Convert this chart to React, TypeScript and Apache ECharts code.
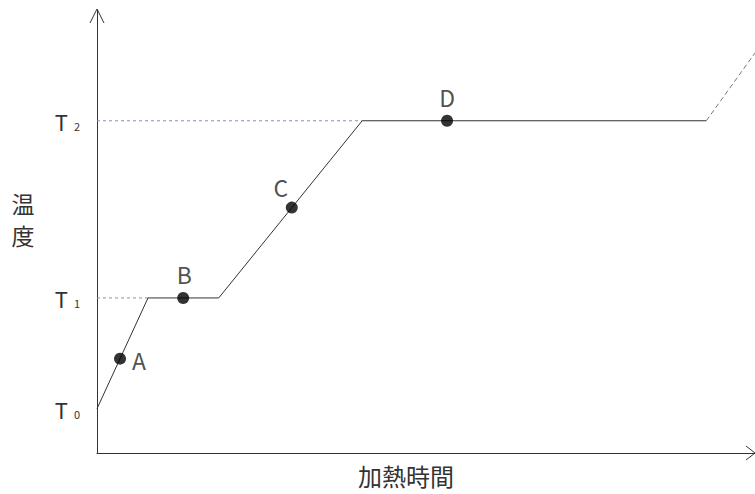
import React, { useEffect, useRef } from "react";
import * as echarts from "echarts";

// Heating curve (x: heating time, y: temperature), values in chart units
const pathX = [0, 7.75, 18.5, 40.3, 92.6];
const pathY = [10, 35, 35, 75, 75];
const dashX = [92.6, 100];
const dashY = [75, 90.3];
const refT1 = [[0, 35], [7.75, 35]];
const refT2 = [[0, 75], [40.3, 75]];
const pointNames = ["A", "B", "C", "D"];
const pointX = [3.5, 13.1, 29.6, 53.2];
const pointY = [21.3, 35, 55.4, 75];
const tickValues = [10, 35, 75];
const tickSubs = ["0", "1", "2"];
const xName = "加熱時間";
const yName = "温\n度";

const FONT = "'Noto Sans CJK JP', 'Noto Sans', sans-serif";
const INK = "#333";

export default function App() {
  const ref = useRef<HTMLDivElement>(null);
  useEffect(() => {
    if (!ref.current) return;
    const chart = echarts.init(ref.current, null, { renderer: "svg" });
    const gridLeft = 97, gridTop = 10, W = 755, H = 494, gridBottom = 41;
    const axisY = H - gridBottom;
    const labelPos: any = {
      A: { position: "right", distance: 6, offset: [0, 1] },
      B: { position: "top", distance: 6, offset: [1, 0] },
      C: { position: "top", distance: 6, offset: [-11, 3] },
      D: { position: "top", distance: 6, offset: [0, 0] },
    };
    chart.setOption({
      animation: false,
      grid: { left: gridLeft, right: 0, top: gridTop, bottom: gridBottom, outerBoundsMode: "none" },
      xAxis: {
        type: "value", min: 0, max: 100,
        axisLine: { show: true, lineStyle: { color: INK, width: 1 } },
        axisTick: { show: false }, axisLabel: { show: false }, splitLine: { show: false },
        name: xName, nameLocation: "middle", nameGap: 10,
        nameTextStyle: { fontFamily: FONT, fontSize: 24, color: INK, padding: [0, 40, 0, 0], verticalAlign: "top" },
      },
      yAxis: {
        type: "value", min: 0, max: 100,
        axisLine: { show: true, lineStyle: { color: INK, width: 1 } },
        axisTick: { show: false }, splitLine: { show: false },
        axisLabel: {
          show: true,
          customValues: tickValues,
          margin: 17,
          formatter: (v: number) => {
            const i = tickValues.indexOf(v);
            return i >= 0 ? "T{s|" + tickSubs[i] + "}" : "";
          },
          fontFamily: FONT, fontSize: 22, color: INK,
          rich: { s: { fontFamily: FONT, fontSize: 11, color: INK, padding: [0, 0, 0, 6], verticalAlign: "bottom" } },
        },
      },
      series: [
        {
          type: "line", data: refT1, symbol: "none", silent: true,
          lineStyle: { color: "#8393bd", width: 1, type: [3, 3] },
        },
        {
          type: "line", data: refT2, symbol: "none", silent: true,
          lineStyle: { color: "#8393bd", width: 1, type: [3, 3] },
        },
        {
          type: "line", data: pathX.map((x, i) => [x, pathY[i]]), symbol: "none",
          lineStyle: { color: INK, width: 1 },
        },
        {
          type: "line", data: dashX.map((x, i) => [x, dashY[i]]), symbol: "none",
          lineStyle: { color: "#777", width: 1, type: [5, 3] },
        },
        {
          type: "scatter", symbol: "circle", symbolSize: 12,
          itemStyle: { color: "#000" },
          data: pointNames.map((n, i) => ({
            value: [pointX[i], pointY[i]], name: n,
            label: { show: true, formatter: n, ...labelPos[n] },
          })),
          label: { fontFamily: FONT, fontSize: 23, color: "#222" },
          z: 5,
        },
      ],
      graphic: [
        {
          type: "text", silent: true, x: 23, y: 219,
          style: {
            text: yName, fontFamily: FONT, fontSize: 23, lineHeight: 32, fill: INK,
            align: "center", verticalAlign: "middle",
          },
        },
        {
          type: "polyline", silent: true,
          shape: { points: [[gridLeft - 7, gridTop + 13], [gridLeft, gridTop - 1], [gridLeft + 7, gridTop + 13]] },
          style: { stroke: INK, lineWidth: 1, fill: "none" },
        },
        {
          type: "polyline", silent: true,
          shape: { points: [[W - 9, axisY - 7], [W, axisY], [W - 9, axisY + 7]] },
          style: { stroke: INK, lineWidth: 1, fill: "none" },
        },
      ],
    });
    return () => chart.dispose();
  }, []);
  return (
    <div
      ref={ref}
      style={{ position: "fixed", left: 0, top: 0, width: 755, height: 494, background: "#fff" }}
    />
  );
}
